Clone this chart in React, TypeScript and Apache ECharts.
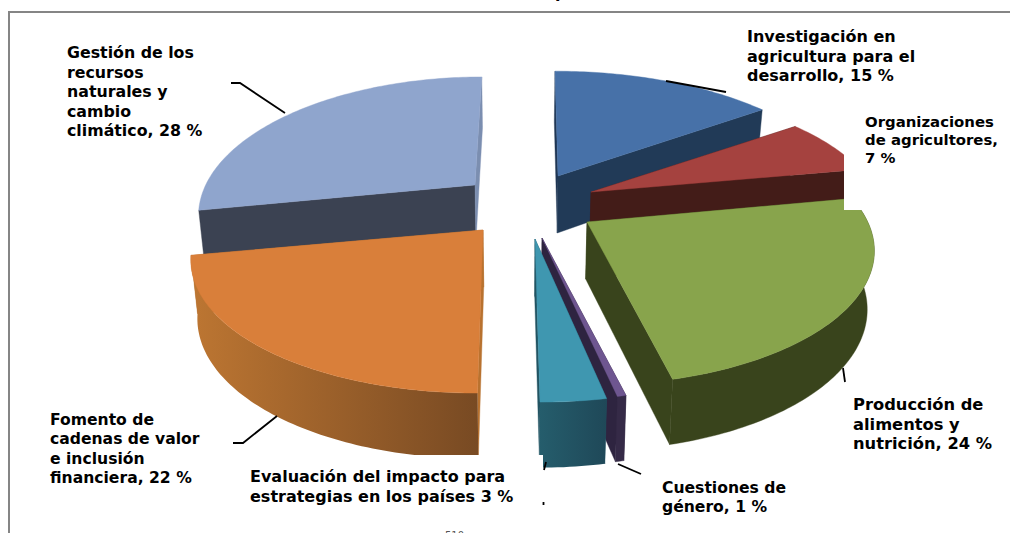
import React, { useEffect, useRef } from "react";
import * as echarts from "echarts";

// Data (shares of the pie, clockwise from the top)
const categories = [
  "Investigación en agricultura para el desarrollo",
  "Organizaciones de agricultores",
  "Producción de alimentos y nutrición",
  "Cuestiones de género",
  "Evaluación del impacto para estrategias en los países",
  "Fomento de cadenas de valor e inclusión financiera",
  "Gestión de los recursos naturales y cambio climático",
];
const shares = [15, 7, 24.2, 0.4, 3, 22, 28];
const labelTexts = [
  "Investigación en\nagricultura para el\ndesarrollo, 15 %",
  "Organizaciones\nde agricultores,\n7 %",
  "Producción de\nalimentos y\nnutrición, 24 %",
  "Cuestiones de\ngénero, 1 %",
  "Evaluación del impacto para\nestrategias en los países 3 %",
  "Fomento de\ncadenas de valor\ne inclusión\nfinanciera, 22 %",
  "Gestión de los\nrecursos\nnaturales y\ncambio\nclimático, 28 %",
];

// Style and layout of the exploded slices
const topColors = ["#4771a8", "#a5423f", "#88a44c", "#6e5690", "#3f97b0", "#d97f3a", "#8fa5cd"];
const wallColors = ["#213a57", "#431c18", "#39441c", "#352a47", "#225462", "#7b4d25", "#3b4252"];
const startCutColors = ["#1f3654", "#431c18", "#39441c", "#2e2440", "#225462", "#b8722f", "#3b4252"];
const endCutColors = ["#213a57", "#431c18", "#39441c", "#2e2440", "#225462", "#b8722f", "#7b8eb0"];
const apexes = [[558, 176], [591, 192], [587, 222], [542, 238], [535, 239], [483, 230], [475, 185]];
const widthScale = [1, 1, 0.985, 1, 1, 1, 0.945];
const heightScale = [0.97, 0.96, 1, 1, 1, 1, 1];
const tilts = [-3, -3, -3, 0, -5, 5.5, 6.75];
const gapsBefore = [0, 0, 0, 0, 0.4, 0, 0];
const drawOrder = [0, 6, 1, 2, 3, 4, 5];
const labelBoxes = [[747, 37], [865, 122], [853, 405], [662, 488], [250, 476], [50, 420], [67, 53]];
const labelLineHeights = [19.3, 17.8, 19.4, 19.3, 20, 19.4, 19.4];
const labelFontSizes = [16, 14.9, 16.3, 15.6, 16, 15.6, 15.8];
const leaders = [
  [[666, 81], [726, 92]],
  [[843, 368], [845, 382]],
  [[618, 464], [641, 474]],
  [[544, 470], [546, 462]],
  [[543.5, 502], [543.5, 505]],
  [[233, 443], [243, 443], [277, 416]],
  [[231, 83], [240, 83], [285, 113]],
];

const CX = 520;
const RX = 285;
const RY = 130;
const K = 0.203;
const DEPTH = 57;
const DEPTH_K = 0.13;
const CONVERGE = 0.02;

function renderSlice(params: any, api: any) {
  const i = params.dataIndex;
  const startShare =
    shares.slice(0, i).reduce((a, b) => a + b, 0) +
    gapsBefore.slice(0, i + 1).reduce((a, b) => a + b, 0);
  const t1 = (startShare / 100) * 2 * Math.PI;
  const t2 = t1 + (api.value(0) / 100) * 2 * Math.PI;
  const [ax, ay] = apexes[i];
  const sx = widthScale[i];
  const sy = heightScale[i];

  const top = (t: number) => {
    const c = Math.cos(t);
    const s = 1 / (1 + K * c);
    return [
      ax + RX * sx * Math.sin(t) * s + tilts[i] * c,
      ay - RY * sy * c * s,
    ];
  };
  const drop = (p: number[], c: number) => [
    p[0] - CONVERGE * (p[0] - CX),
    p[1] + DEPTH / (1 + DEPTH_K * c),
  ];
  const bottom = (t: number) => drop(top(t), Math.cos(t));
  const apex = [ax, ay];
  const apexLow = drop(apex, 0);

  const arc = (a: number, b: number) => {
    const n = Math.max(2, Math.ceil(Math.abs(b - a) / (Math.PI / 180)));
    const out: number[] = [];
    for (let k = 0; k <= n; k++) out.push(a + ((b - a) * k) / n);
    return out;
  };

  const poly = (points: number[][], fill: any) => ({
    type: "polygon",
    shape: { points },
    style: { fill, stroke: typeof fill === "string" ? fill : "none", lineWidth: 0.4 },
    silent: true,
  });

  const children: any[] = [];
  // cut faces
  children.push(poly([apex, top(t1), bottom(t1), apexLow], startCutColors[i]));
  children.push(poly([apex, top(t2), bottom(t2), apexLow], endCutColors[i]));
  // outer wall, only where it faces the viewer
  const wa = arc(t1, t2).filter((t) => Math.cos(t) < 0.2 && i !== 6);
  if (wa.length > 1) {
    const outer = wa.map(top).concat(wa.slice().reverse().map(bottom));
    let fill: any = wallColors[i];
    if (i === 5) {
      fill = new echarts.graphic.LinearGradient(0, 0, 1, 0, [
        { offset: 0, color: "#bd7632" },
        { offset: 1, color: "#784a23" },
      ]);
    } else if (i === 4) {
      fill = new echarts.graphic.LinearGradient(0, 0, 1, 0, [
        { offset: 0, color: "#255d6c" },
        { offset: 1, color: "#1f4858" },
      ]);
    }
    children.push(poly(outer, fill));
  }
  // top face
  children.push(poly([apex, ...arc(t1, t2).map(top)], topColors[i]));
  return { type: "group", children };
}

export default function App() {
  const ref = useRef<HTMLDivElement>(null);

  useEffect(() => {
    const chart = echarts.init(ref.current!, null, { renderer: "svg" });
    const graphics: any[] = [
      // white label backgrounds that cover the pie, as in the reference
      { type: "rect", z: 10, shape: { x: 844, y: 140, width: 156, height: 70 }, style: { fill: "#fff" } },
      { type: "rect", z: 10, shape: { x: 245, y: 455, width: 298, height: 50 }, style: { fill: "#fff" } },
      // chart frame
      {
        type: "polyline",
        z: 11,
        shape: { points: [[9, 533], [9, 12], [1010, 12]] },
        style: { stroke: "#858585", lineWidth: 2, fill: "none" },
      },
      // cut-off title and footer
      {
        type: "text",
        z: 11,
        x: 555,
        y: -15.5,
        style: { text: "p", font: "bold 16px 'DejaVu Sans'", fill: "#000" },
      },
      {
        type: "text",
        z: 11,
        x: 445,
        y: 530,
        style: { text: "510", font: "10px 'DejaVu Sans'", fill: "#555" },
      },
      ...leaders.map((points) => ({
        type: "polyline",
        z: 12,
        shape: { points },
        style: { stroke: "#000", lineWidth: 1.8, fill: "none" },
      })),
      ...labelTexts.map((text, i) => ({
        type: "text",
        z: 13,
        x: labelBoxes[i][0],
        y: labelBoxes[i][1] - labelLineHeights[i] / 2,
        style: {
          text,
          fontFamily: "'DejaVu Sans'",
          fontWeight: "bold",
          fontSize: labelFontSizes[i],
          lineHeight: labelLineHeights[i],
          fill: "#000",
        },
      })),
    ];

    chart.setOption({
      animation: false,
      backgroundColor: "#fff",
      graphic: graphics,
      series: drawOrder.map((idx) => ({
        type: "custom",
        coordinateSystem: "none",
        silent: true,
        z: 2 + drawOrder.indexOf(idx),
        renderItem: (params: any, api: any) =>
          renderSlice({ ...params, dataIndex: idx }, api),
        data: [{ name: categories[idx], value: [shares[idx]] }],
      })),
    });
    return () => chart.dispose();
  }, []);

  return (
    <div
      ref={ref}
      style={{ position: "fixed", left: 0, top: 0, width: 1010, height: 533 }}
    />
  );
}
